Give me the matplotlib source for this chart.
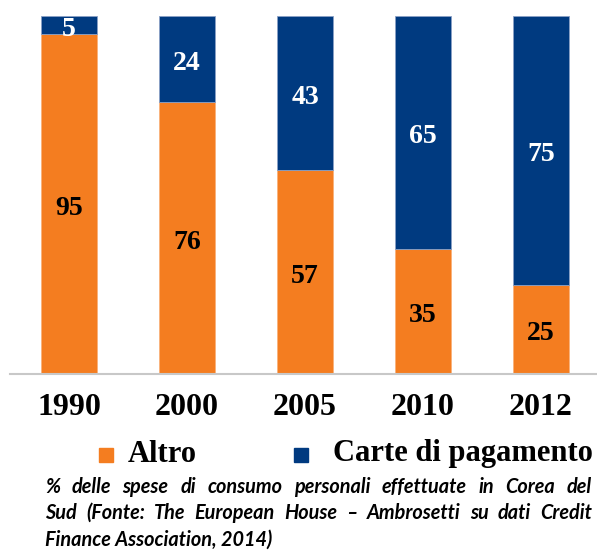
import matplotlib
matplotlib.use("Agg")
import matplotlib.pyplot as plt
from matplotlib.patches import Rectangle

years = ["1990", "2000", "2005", "2010", "2012"]
altro = [95, 76, 57, 35, 25]
carte = [5, 24, 43, 65, 75]
legend_labels = ["Altro", "Carte di pagamento"]
caption_lines = [
    "%  delle spese di consumo personali effettuate in Corea del",
    "Sud (Fonte: The European House \u2013 Ambrosetti su dati Credit",
    "Finance Association, 2014)",
]

ORANGE = "#F47D20"
BLUE = "#003A80"
W, H = 597, 553
SERIF = "Liberation Serif"

fig = plt.figure(figsize=(W / 100, H / 100), dpi=100)
ax = fig.add_axes([10 / W, 1 - 374 / H, 590 / W, 358 / H])
x = range(len(years))
ax.bar(x, altro, width=0.48, color=ORANGE, edgecolor="#f9b27a", linewidth=0.6)
ax.bar(x, carte, bottom=altro, width=0.48, color=BLUE, edgecolor="#8aa0c6", linewidth=0.6)
ax.set_xlim(-0.5, 4.5)
ax.set_ylim(0, 100)
for s in ["top", "right", "left"]:
    ax.spines[s].set_visible(False)
ax.spines["bottom"].set_color("#c8c8c8")
ax.spines["bottom"].set_linewidth(1.5)
ax.set_yticks([])
ax.set_xticks(list(x))
ax.set_xticklabels(years, fontfamily=SERIF, fontweight="bold", fontsize=23)
ax.tick_params(axis="x", length=0, pad=14)

for i in x:
    ax.annotate(str(altro[i]), (i, altro[i] / 2), xytext=(0, -3), textcoords="offset points",
                ha="center", va="center", fontfamily=SERIF, fontweight="bold",
                fontsize=20, color="black")
    ax.annotate(str(carte[i]), (i, altro[i] + carte[i] / 2), xytext=(0, -3), textcoords="offset points",
                ha="center", va="center", fontfamily=SERIF, fontweight="bold",
                fontsize=20, color="white")

# legend
ly = 1 - 454 / H
sq = 14
fig.patches.append(Rectangle((99 / W, (H - 462) / H), sq / W, sq / H, color=ORANGE, transform=fig.transFigure))
fig.patches.append(Rectangle((294 / W, (H - 462) / H), sq / W, sq / H, color=BLUE, transform=fig.transFigure))
fig.text(128 / W, ly, legend_labels[0], fontfamily=SERIF, fontweight="bold", fontsize=22, va="center")
fig.text(333 / W, ly, legend_labels[1], fontfamily=SERIF, fontweight="bold", fontsize=22, va="center")

# caption (justified)
left, right = 45, 592
ys = [487, 513, 540]
fig.canvas.draw()
renderer = fig.canvas.get_renderer()
props = dict(fontfamily="Lato", fontstyle="italic", fontweight="bold", fontsize=14.3, va="center")
for li, (line, yy) in enumerate(zip(caption_lines, ys)):
    yf = 1 - yy / H
    if li == len(caption_lines) - 1:
        fig.text(left / W, yf, line, **props)
        continue
    words = line.split()
    texts = [fig.text(0, yf, w_, **props) for w_ in words]
    widths = [t.get_window_extent(renderer).width for t in texts]
    gap = (right - left - sum(widths)) / (len(words) - 1)
    cx = left
    for t, wd in zip(texts, widths):
        t.set_x(cx / W)
        cx += wd + gap

fig.savefig("out.png", dpi=100)
